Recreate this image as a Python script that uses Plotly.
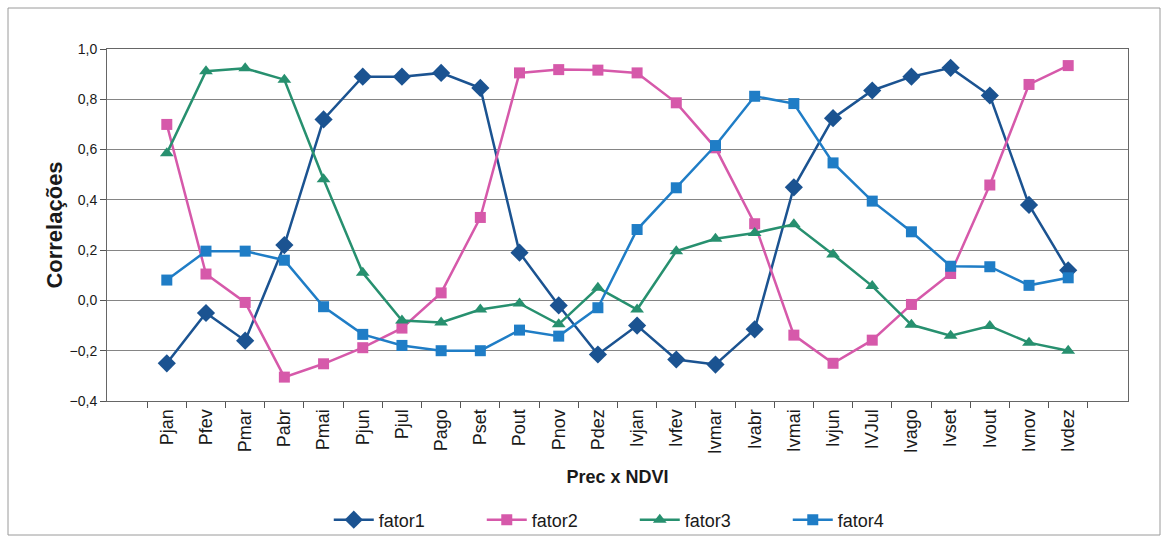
import plotly.graph_objects as go

categories = ["Pjan", "Pfev", "Pmar", "Pabr", "Pmai", "Pjun", "Pjul", "Pago", "Pset", "Pout",
              "Pnov", "Pdez", "Ivjan", "Ivfev", "Ivmar", "Ivabr", "Ivmai", "Ivjun", "IVJul",
              "Ivago", "Ivset", "Ivout", "Ivnov", "Ivdez"]

fator1 = [-0.25, -0.05, -0.16, 0.22, 0.72, 0.89, 0.89, 0.905, 0.845, 0.19,
          -0.02, -0.215, -0.10, -0.235, -0.255, -0.115, 0.45, 0.725, 0.835,
          0.89, 0.925, 0.815, 0.38, 0.12]
fator2 = [0.70, 0.105, -0.008, -0.305, -0.252, -0.188, -0.11, 0.03, 0.33, 0.905,
          0.918, 0.916, 0.905, 0.786, 0.607, 0.305, -0.138, -0.25, -0.158,
          -0.016, 0.107, 0.459, 0.859, 0.934]
fator3 = [0.585, 0.912, 0.923, 0.878, 0.482, 0.11, -0.08, -0.088, -0.036, -0.012,
          -0.095, 0.05, -0.036, 0.196, 0.245, 0.268, 0.303, 0.183, 0.057,
          -0.097, -0.14, -0.102, -0.168, -0.2]
fator4 = [0.081, 0.196, 0.196, 0.16, -0.025, -0.135, -0.179, -0.2, -0.2, -0.118,
          -0.142, -0.029, 0.282, 0.448, 0.616, 0.812, 0.783, 0.547, 0.395,
          0.273, 0.136, 0.134, 0.06, 0.09]

series = [
    ("fator1", fator1, "#1b5391", "diamond", 14),
    ("fator2", fator2, "#d659aa", "square", 11),
    ("fator3", fator3, "#27906f", "triangle-up", 12),
    ("fator4", fator4, "#1f7dc6", "square", 11),
]

fig = go.Figure()
for name, vals, color, sym, size in series:
    fig.add_trace(go.Scatter(
        x=categories, y=vals, name=name, mode="lines+markers",
        line=dict(color=color, width=2.5),
        marker=dict(symbol=sym, size=size, color=color),
    ))

W, H = 1169, 541
L, R, T, B = 107, 41, 49, 140
pw, ph = W - L - R, H - T - B

fig.update_layout(
    width=W, height=H,
    margin=dict(l=L, r=R, t=T, b=B, autoexpand=False),
    paper_bgcolor="white", plot_bgcolor="white",
    separators=",.",
    font=dict(family="Arial, Liberation Sans, sans-serif", color="#1a1a1a"),
    showlegend=True,
    legend=dict(orientation="h", x=0.543, xanchor="center", xref="container",
                y=(H - 520) / H, yanchor="middle", yref="container",
                bgcolor="rgba(0,0,0,0)",
                font=dict(size=18), itemwidth=40, entrywidth=98,
                entrywidthmode="pixels"),
    shapes=[dict(type="rect", xref="paper", yref="paper",
                 x0=(8 - L) / pw, x1=(1160 - L) / pw,
                 y0=-(535 - (T + ph)) / ph, y1=1 + (T - 8) / ph,
                 line=dict(color="#9a9a9a", width=1), layer="below")],
)
fig.update_xaxes(
    type="category", tickangle=-90, tickfont=dict(size=18),
    ticks="outside", ticklen=6, tickcolor="#555", tickson="boundaries",
    showline=True, linecolor="#666", linewidth=1, mirror=True,
    showgrid=False, automargin=False,
    title=dict(text="<b>Prec x NDVI</b>", font=dict(size=18), standoff=17),
)
fig.update_yaxes(
    range=[-0.4, 1.0], dtick=0.2, tick0=-0.4, tickformat=".1f",
    tickfont=dict(size=14), ticks="outside", ticklen=6, tickcolor="#555",
    showline=True, linecolor="#666", linewidth=1, mirror=True,
    showgrid=True, gridcolor="#858585", gridwidth=1, zeroline=False,
    automargin=False,
    title=dict(text="<b>Correlações</b>", font=dict(size=22), standoff=0),
)

fig.write_html("out.html", config={"displayModeBar": False},
               post_script="document.body.style.margin='0';")
